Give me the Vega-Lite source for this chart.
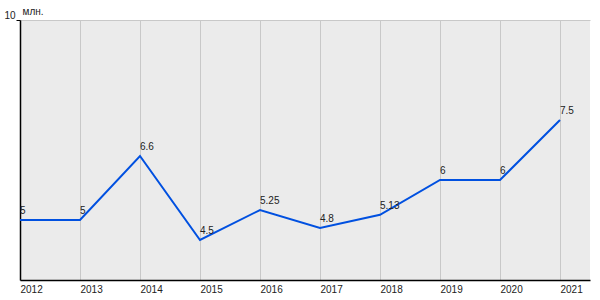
{
  "$schema": "https://vega.github.io/schema/vega-lite/v6.json",
  "width": 570,
  "height": 260,
  "autosize": {"type": "none"},
  "padding": {"left": 20, "top": 20, "right": 10, "bottom": 20},
  "background": "white",
  "config": {
    "view": {"fill": "#ebebeb", "stroke": null},
    "font": "Liberation Sans"
  },
  "data": {
    "values": [
      {"year": 2012, "value": 5},
      {"year": 2013, "value": 5},
      {"year": 2014, "value": 6.6},
      {"year": 2015, "value": 4.5},
      {"year": 2016, "value": 5.25},
      {"year": 2017, "value": 4.8},
      {"year": 2018, "value": 5.13},
      {"year": 2019, "value": 6},
      {"year": 2020, "value": 6},
      {"year": 2021, "value": 7.5}
    ]
  },
  "encoding": {
    "x": {
      "field": "year",
      "type": "quantitative",
      "scale": {"domain": [2012, 2021.5], "nice": false, "zero": false},
      "axis": {
        "values": [2012, 2013, 2014, 2015, 2016, 2017, 2018, 2019, 2020, 2021],
        "format": "d",
        "title": null,
        "grid": true,
        "gridColor": "#c8c8c8",
        "gridWidth": 1,
        "ticks": false,
        "domainColor": "#000000",
        "domainWidth": 1.5,
        "labelAlign": "left",
        "labelBaseline": "top",
        "labelPadding": 4,
        "labelFontSize": 10,
        "labelColor": "#222222",
        "labelFlush": false,
        "labelOverlap": false
      }
    },
    "y": {
      "field": "value",
      "type": "quantitative",
      "scale": {"domain": [3.5, 10], "nice": false, "zero": false},
      "axis": {
        "values": [10],
        "title": "млн.",
        "titleAngle": 0,
        "titleX": 2,
        "titleY": -4,
        "titleAlign": "left",
        "titleBaseline": "bottom",
        "titleFontSize": 10,
        "titleFontWeight": "normal",
        "titleColor": "#222222",
        "grid": true,
        "gridColor": "#c8c8c8",
        "tickSize": 4,
        "tickColor": "#000000",
        "domainColor": "#000000",
        "domainWidth": 1.5,
        "labelPadding": 1,
        "labelFontSize": 10,
        "labelColor": "#222222",
        "labelBaseline": "bottom",
        "labelFlush": false
      }
    }
  },
  "layer": [
    {
      "mark": {"type": "line", "color": "#0050e0", "strokeWidth": 2, "clip": false}
    },
    {
      "mark": {"type": "text", "align": "left", "baseline": "alphabetic", "dy": -6, "fontSize": 10, "color": "#222222"},
      "encoding": {
        "text": {"field": "value", "type": "nominal"}
      }
    }
  ]
}
